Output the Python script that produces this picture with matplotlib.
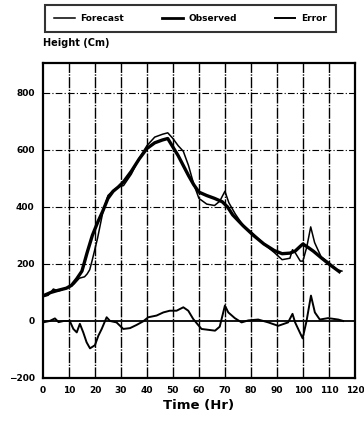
import matplotlib
matplotlib.use("Agg")
import matplotlib.pyplot as plt
from matplotlib.lines import Line2D

# Observed height (thick line)
obs_t = [0, 3, 6, 9, 11, 13, 15, 17, 19, 21, 23, 25, 27, 29, 31, 34, 37, 40, 43, 46, 48,
         50, 52, 54, 56, 58, 60, 63, 66, 69, 71, 73, 77, 81, 85, 89, 92, 95, 97, 99, 100,
         102, 104, 107, 110, 114]
obs_h = [88, 100, 108, 115, 125, 148, 175, 240, 300, 345, 385, 430, 455, 470, 488, 525,
         568, 605, 625, 635, 640, 610, 580, 545, 510, 478, 452, 440, 430, 418, 400, 372,
         334, 300, 270, 247, 236, 238, 245, 262, 270, 258, 245, 222, 200, 173]

# Forecast height (thin line)
fc_t = [0, 2, 4, 6, 8, 10, 12, 14, 16, 17, 18, 19, 21, 23, 25, 27, 29, 31, 34, 37, 40, 43,
        46, 48, 50, 52, 54, 56, 58, 60, 63, 66, 68, 70, 71.5, 74, 77, 81, 85, 89, 92, 95,
        96, 97, 99, 100, 101.5, 103, 104.5, 107, 110, 113, 115]
fc_h = [85, 90, 112, 105, 112, 118, 130, 150, 155, 165, 180, 215, 290, 380, 440, 458, 470,
        475, 515, 570, 615, 645, 655, 660, 640, 615, 595, 545, 480, 430, 410, 405, 420,
        455, 415, 375, 335, 305, 270, 240, 215, 220, 250, 240, 210, 210, 260, 330, 275,
        225, 205, 180, 175]

# Error
err_t = [0, 2.6, 4.6, 6, 8, 10.3, 11.7, 13, 14.2, 15.5, 16.8, 18.1, 20, 21.3, 22.6, 24.5,
         25.8, 28.3, 30.9, 33.5, 36, 38.6, 40.5, 43.7, 46.3, 48.8, 51.4, 54, 55.9, 57.8,
         59.7, 61, 66.2, 68, 70, 71.3, 73.8, 76.4, 79, 82.8, 86.7, 90.5, 94.3, 96, 97,
         98.8, 99.9, 101.4, 103.1, 104.6, 106.5, 109.7, 113.6, 115.5]
err_h = [-5, 0, 9, -4, 0, 0, -28, -40, -10, -40, -75, -96, -85, -52, -28, 13, 0, -5, -28,
         -25, -14, -1, 13, 19, 30, 36, 36, 48, 36, 7, -14, -28, -34, -20, 54, 30, 10, -5,
         2, 5, -5, -17, -5, 25, -5, -40, -61, 0, 89, 30, 5, 10, 5, 0]

x_ticks = list(range(0, 121, 10))
y_ticks = [-200, 0, 200, 400, 600, 800]

fig = plt.figure(figsize=(3.64, 4.24), dpi=100)
ax = fig.add_axes([0.118, 0.1085, 0.857, 0.743])

ax.set_xlim(0, 120)
ax.set_ylim(-200, 905)
for xv in x_ticks[1:-1]:
    ax.axvline(xv, color="black", lw=1.0, ls=(0, (8, 1, 1, 1)), zorder=1)
for yv in y_ticks:
    if yv == 0:
        ax.axhline(0, color="black", lw=1.3, zorder=1)
    elif yv != -200:
        ax.axhline(yv, color="black", lw=0.8, ls=(0, (6, 2, 1, 2)), zorder=1)

ax.plot(obs_t, obs_h, color="black", lw=2.4, zorder=3)
ax.plot(fc_t, fc_h, color="black", lw=1.1, zorder=3)
ax.plot(err_t, err_h, color="black", lw=1.4, zorder=3)

ax.set_xticks(x_ticks)
ax.set_yticks(y_ticks)
ax.tick_params(length=0, labelsize=6.5, pad=6)
for lab in ax.get_xticklabels() + ax.get_yticklabels():
    lab.set_fontweight("heavy")
for sp in ax.spines.values():
    sp.set_linewidth(1.6)

ax.set_xlabel("Time (Hr)", fontsize=9.5, fontweight="bold", labelpad=3)
fig.text(0.118, 0.887, "Height (Cm)", fontsize=7, fontweight="bold", ha="left", va="bottom")

handles = [Line2D([], [], color="black", lw=1.1),
           Line2D([], [], color="black", lw=2.0),
           Line2D([], [], color="black", lw=1.4)]
leg = fig.legend(handles, ["Forecast", "Observed", "Error"], loc="center",
                 bbox_to_anchor=(0.523, 0.957), ncol=3, frameon=True, fancybox=False,
                 prop={"weight": "bold", "size": 6.5}, handlelength=2.3,
                 columnspacing=4.2, handletextpad=0.6, borderpad=1.0, borderaxespad=0)
leg.get_frame().set_edgecolor("black")
leg.get_frame().set_linewidth(1.5)

fig.savefig("out.png", dpi=100)
